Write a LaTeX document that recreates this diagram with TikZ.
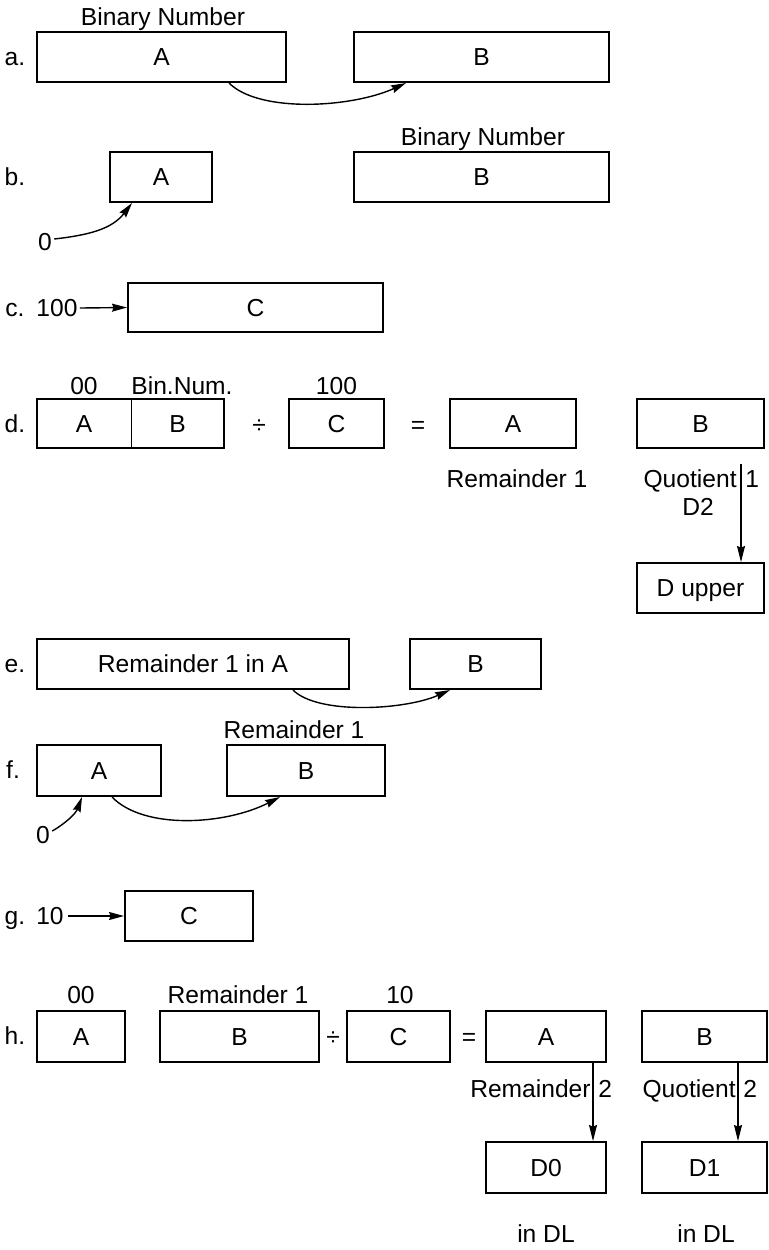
\documentclass[tikz,border=0pt]{standalone}
\usepackage{fontspec}
\setmainfont{Liberation Sans}
\usetikzlibrary{arrows.meta,calc}
\begin{document}
\begin{tikzpicture}[x=0.5pt,y=-0.5pt,
  font=\fontsize{12.3}{14}\selectfont,
  bx/.style 2 args={draw, line width=1pt, inner sep=0pt, minimum width=#1*0.5pt, minimum height=#2*0.5pt, text height=8.8pt, text depth=0pt},
  bxn/.style 2 args={inner sep=0pt, outer sep=0pt, minimum width=#1*0.5pt, minimum height=#2*0.5pt, text height=8.8pt, text depth=0pt},
  lbl/.style={inner sep=0pt, text height=8.8pt, text depth=0pt},
  boxline/.style={line width=1pt},
  thinline/.style={line width=0.5pt},
  arr/.style={line width=0.7pt, -{Stealth[length=7.5pt,width=4pt,inset=0.8pt]}},
  arrthin/.style={line width=0.55pt, -{Stealth[length=8pt,width=4pt,inset=0.8pt]}}]
\fill[white] (0,0) rectangle (769,1250);
\useasboundingbox (0,0) rectangle (769,1250);

% a
\node[lbl] (la) at (15,57) {a.};
\node[lbl] (bn1) at (163,17) {Binary Number};
\node[bx={249}{50}] (aA) at (161.5,57) {A};
\node[bx={255}{50}] (aB) at (481.5,57) {B};
\draw[arr] ($(aA.south west)+(193,0)$) .. controls +(30,30) and +(-55,25) .. ($(aB.south west)+(53,0)$);

% b
\node[lbl] (lb) at (15,177) {b.};
\node[bx={102}{50}] (bA) at (161,177) {A};
\node[lbl] (bn2) at (483,137) {Binary Number};
\node[bx={255}{50}] (bB) at (481.5,177) {B};
\node[lbl] (z1) at (45,242) {0};
\draw[arr] ($(z1.east)+(2,-3)$) .. controls +(35,-4) and +(-20,26) .. ($(bA.south west)+(23,0)$);

% c
\node[lbl] (lc) at (15,308) {c.};
\node[lbl] (n100) at (57,308) {100};
\node[bx={255}{49}] (cC) at (255.5,307.5) {C};
\draw[arr] ($(n100.east)+(2,0)$) -- (cC.west);

% d
\node[lbl] (ld) at (15,424) {d.};
\node[bxn={94}{49}] (dA) at (84,423.5) {A};
\node[bxn={93}{49}] (dB) at (177.5,423.5) {B};
\draw[boxline] (dA.north west) rectangle (dB.south east);
\draw[thinline] (dA.north east) -- (dA.south east);
\node[lbl] (d00) at (84,386) {00};
\node[lbl] (dbn) at (182,386) {Bin.Num.};
\node[lbl] (ddiv) at (259,425) {÷};
\node[lbl] (d100) at (336.5,386) {100};
\node[bx={95}{49}] (dC) at (336.5,423.5) {C};
\node[lbl] (deq) at (418,425) {=};
\node[bx={126}{49}] (dA2) at (513,423.5) {A};
\node[bx={127}{49}] (dB2) at (700.5,423.5) {B};
\node[lbl] (drem) at (517,479) {Remainder 1};
\node[lbl,anchor=east] (dquo) at (737,479) {Quotient};
\node[lbl,anchor=west] (dq1) at (745,479) {1};
\node[lbl] (dd2) at (698,507) {D2};
\node[bx={127}{50}] (dD) at (700.5,588) {D upper};
\coordinate (dstart) at ($(dB2.south west)+(105,15)$);
\draw[arrthin] (dstart) -- (dstart |- dD.north);

% e
\node[lbl] (le) at (15,664) {e.};
\node[bx={312}{50}] (eA) at (193,664) {Remainder 1 in A};
\node[bx={131}{50}] (eB) at (475.5,664) {B};
\draw[arr] ($(eA.south west)+(257,0)$) .. controls +(25,25) and +(-45,20) .. ($(eB.south west)+(41,0)$);

% f
\node[lbl] (lf) at (13,770) {f.};
\node[bx={124}{51}] (fA) at (99,770.5) {A};
\node[lbl] (frem) at (294,730) {Remainder 1};
\node[bx={158}{51}] (fB) at (306,770.5) {B};
\node[lbl] (z2) at (43,835) {0};
\draw[arr] ($(z2.east)+(2,-4)$) .. controls +(14,-8) and +(-6,16) .. ($(fA.south west)+(46,0)$);
\draw[arr] ($(fA.south west)+(76,0)$) .. controls +(32,33) and +(-55,28) .. ($(fB.south west)+(54,0)$);

% g
\node[lbl] (lg) at (15,916) {g.};
\node[lbl] (n10) at (50,916) {10};
\node[bx={128}{50}] (gC) at (189,916) {C};
\draw[arr] ($(n10.east)+(4,0)$) -- (gC.west);

% h
\node[lbl] (lh) at (15,1036) {h.};
\node[lbl] (h00) at (81,995) {00};
\node[bx={88}{51}] (hA) at (81,1036.5) {A};
\node[lbl] (hrem) at (238,995) {Remainder 1};
\node[bx={159}{51}] (hB) at (239.5,1036.5) {B};
\node[lbl] (hdiv) at (333,1037) {÷};
\node[lbl] (h10) at (400,995) {10};
\node[bx={103}{51}] (hC) at (398.5,1036.5) {C};
\node[lbl] (heq) at (469,1037) {=};
\node[bx={120}{51}] (hA2) at (546,1036.5) {A};
\node[bx={125}{51}] (hB2) at (704.5,1036.5) {B};
\node[lbl,anchor=east] (hrem2) at (591,1089) {Remainder};
\node[lbl,anchor=west] (hr2) at (598,1089) {2};
\node[lbl,anchor=east] (hquo) at (736,1089) {Quotient};
\node[lbl,anchor=west] (hq2) at (743,1089) {2};
\node[bx={120}{51}] (hD0) at (546,1167.5) {D0};
\node[bx={125}{51}] (hD1) at (704.5,1167.5) {D1};
\node[lbl] (hdl0) at (546,1234) {in DL};
\node[lbl] (hdl1) at (706,1234) {in DL};
\draw[arrthin] ($(hA2.south west)+(108,0)$) -- ($(hD0.north west)+(108,0)$);
\draw[arrthin] ($(hB2.south west)+(97,0)$) -- ($(hD1.north west)+(97,0)$);
\end{tikzpicture}
\end{document}
